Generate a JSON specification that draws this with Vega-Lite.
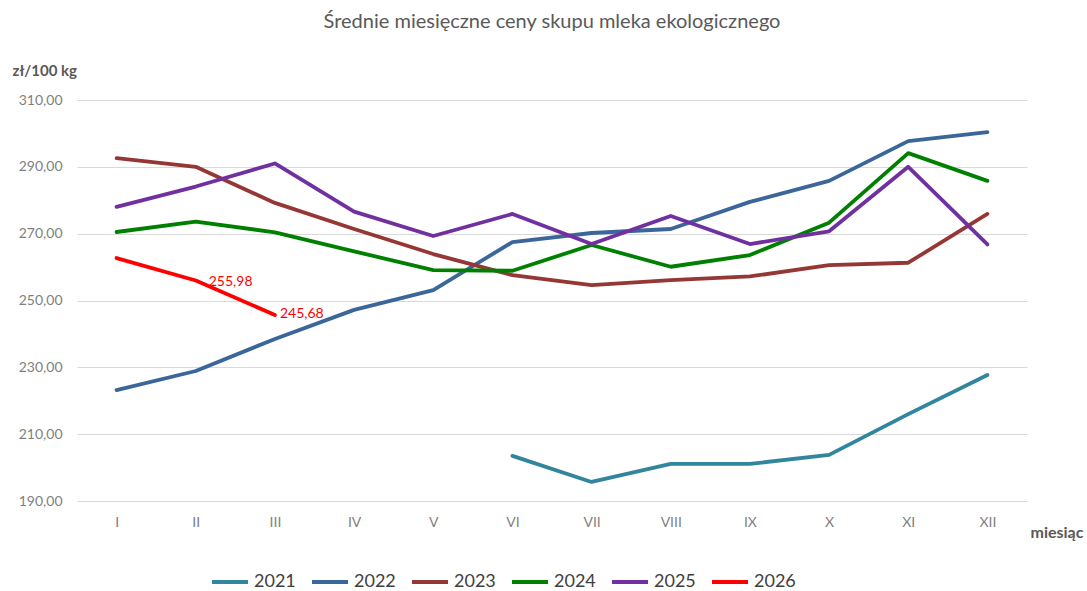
{
  "$schema": "https://vega.github.io/schema/vega-lite/v6.json",
  "width": 950,
  "height": 401,
  "autosize": {"type": "none"},
  "padding": {"left": 77, "top": 100, "right": 60, "bottom": 90},
  "background": "white",
  "title": {"text": "Średnie miesięczne ceny skupu mleka ekologicznego", "font": "Lato", "fontSize": 20, "fontWeight": "normal", "color": "#595959", "anchor": "middle", "offset": 31},
  "data": {"values": [
    {"rok": "2021", "m": "VI", "v": 203.5},
    {"rok": "2021", "m": "VII", "v": 195.7},
    {"rok": "2021", "m": "VIII", "v": 201.1},
    {"rok": "2021", "m": "IX", "v": 201.1},
    {"rok": "2021", "m": "X", "v": 203.8},
    {"rok": "2021", "m": "XI", "v": 216.0},
    {"rok": "2021", "m": "XII", "v": 227.7},
    {"rok": "2022", "m": "I", "v": 223.2},
    {"rok": "2022", "m": "II", "v": 228.9},
    {"rok": "2022", "m": "III", "v": 238.5},
    {"rok": "2022", "m": "IV", "v": 247.2},
    {"rok": "2022", "m": "V", "v": 253.1},
    {"rok": "2022", "m": "VI", "v": 267.5},
    {"rok": "2022", "m": "VII", "v": 270.2},
    {"rok": "2022", "m": "VIII", "v": 271.4},
    {"rok": "2022", "m": "IX", "v": 279.5},
    {"rok": "2022", "m": "X", "v": 285.8},
    {"rok": "2022", "m": "XI", "v": 297.7},
    {"rok": "2022", "m": "XII", "v": 300.4},
    {"rok": "2023", "m": "I", "v": 292.6},
    {"rok": "2023", "m": "II", "v": 290.0},
    {"rok": "2023", "m": "III", "v": 279.2},
    {"rok": "2023", "m": "IV", "v": 271.4},
    {"rok": "2023", "m": "V", "v": 263.9},
    {"rok": "2023", "m": "VI", "v": 257.6},
    {"rok": "2023", "m": "VII", "v": 254.6},
    {"rok": "2023", "m": "VIII", "v": 256.1},
    {"rok": "2023", "m": "IX", "v": 257.2},
    {"rok": "2023", "m": "X", "v": 260.6},
    {"rok": "2023", "m": "XI", "v": 261.3},
    {"rok": "2023", "m": "XII", "v": 275.9},
    {"rok": "2024", "m": "I", "v": 270.5},
    {"rok": "2024", "m": "II", "v": 273.6},
    {"rok": "2024", "m": "III", "v": 270.4},
    {"rok": "2024", "m": "IV", "v": 264.7},
    {"rok": "2024", "m": "V", "v": 259.1},
    {"rok": "2024", "m": "VI", "v": 258.9},
    {"rok": "2024", "m": "VII", "v": 266.6},
    {"rok": "2024", "m": "VIII", "v": 260.1},
    {"rok": "2024", "m": "IX", "v": 263.6},
    {"rok": "2024", "m": "X", "v": 273.3},
    {"rok": "2024", "m": "XI", "v": 294.1},
    {"rok": "2024", "m": "XII", "v": 285.8},
    {"rok": "2025", "m": "I", "v": 278.0},
    {"rok": "2025", "m": "II", "v": 284.1},
    {"rok": "2025", "m": "III", "v": 291.0},
    {"rok": "2025", "m": "IV", "v": 276.6},
    {"rok": "2025", "m": "V", "v": 269.3},
    {"rok": "2025", "m": "VI", "v": 275.9},
    {"rok": "2025", "m": "VII", "v": 266.9},
    {"rok": "2025", "m": "VIII", "v": 275.3},
    {"rok": "2025", "m": "IX", "v": 266.9},
    {"rok": "2025", "m": "X", "v": 270.7},
    {"rok": "2025", "m": "XI", "v": 290.0},
    {"rok": "2025", "m": "XII", "v": 266.8},
    {"rok": "2026", "m": "I", "v": 262.7},
    {"rok": "2026", "m": "II", "v": 255.98},
    {"rok": "2026", "m": "III", "v": 245.68}
  ]},
  "encoding": {
    "x": {"field": "m", "type": "ordinal", "sort": ["I", "II", "III", "IV", "V", "VI", "VII", "VIII", "IX", "X", "XI", "XII"],
      "axis": {"labelAngle": 0, "labelPadding": 14, "labelFont": "Lato", "labelFontSize": 14, "labelColor": "#7f7f7f", "grid": false,
        "title": "miesiąc", "titleX": 953, "titleY": 31, "titleAlign": "left", "titleAngle": 0, "titleBaseline": "middle", "titleFont": "Lato", "titleFontSize": 16, "titleFontWeight": "bold", "titleColor": "#595959"}},
    "y": {"field": "v", "type": "quantitative", "scale": {"domain": [190, 310], "nice": false, "zero": false},
      "axis": {"values": [190, 210, 230, 250, 270, 290, 310], "labelExpr": "replace(format(datum.value, '.2f'), '.', ',')", "labelPadding": 15, "labelFont": "Lato", "labelFontSize": 14, "labelColor": "#7f7f7f", "gridColor": "#d9d9d9", "gridWidth": 1,
        "title": "zł/100 kg", "titleX": -65, "titleY": -30, "titleAlign": "left", "titleAngle": 0, "titleBaseline": "middle", "titleFont": "Lato", "titleFontSize": 15, "titleFontWeight": "bold", "titleColor": "#595959"}}
  },
  "layer": [
    {
      "mark": {"type": "line", "strokeWidth": 3.8, "strokeCap": "round", "strokeJoin": "round"},
      "encoding": {
        "color": {"field": "rok", "type": "nominal",
          "scale": {"domain": ["2021", "2022", "2023", "2024", "2025", "2026"], "range": ["#31859C", "#3B6699", "#953735", "#008000", "#7030A0", "#FF0000"]},
          "legend": {"orient": "none", "legendX": 133, "legendY": 462, "direction": "horizontal", "title": null, "symbolType": "stroke", "symbolStrokeWidth": 4, "symbolSize": 1296, "labelFont": "Lato", "labelFontSize": 18, "labelColor": "#404040", "columnPadding": 8, "labelOffset": 4}}
      }
    },
    {
      "transform": [{"filter": "datum.rok == '2026' && datum.m == 'II'"}, {"calculate": "replace(format(datum.v, '.2f'), '.', ',')", "as": "lab"}],
      "mark": {"type": "text", "align": "left", "baseline": "middle", "dx": 13, "dy": 1, "font": "Lato", "fontSize": 14, "color": "#FF0000"},
      "encoding": {"text": {"field": "lab"}}
    },
    {
      "transform": [{"filter": "datum.rok == '2026' && datum.m == 'III'"}, {"calculate": "replace(format(datum.v, '.2f'), '.', ',')", "as": "lab"}],
      "mark": {"type": "text", "align": "left", "baseline": "middle", "dx": 5, "dy": -1, "font": "Lato", "fontSize": 14, "color": "#FF0000"},
      "encoding": {"text": {"field": "lab"}}
    }
  ],
  "config": {"view": {"stroke": null}, "axis": {"domain": false, "ticks": false}}
}
